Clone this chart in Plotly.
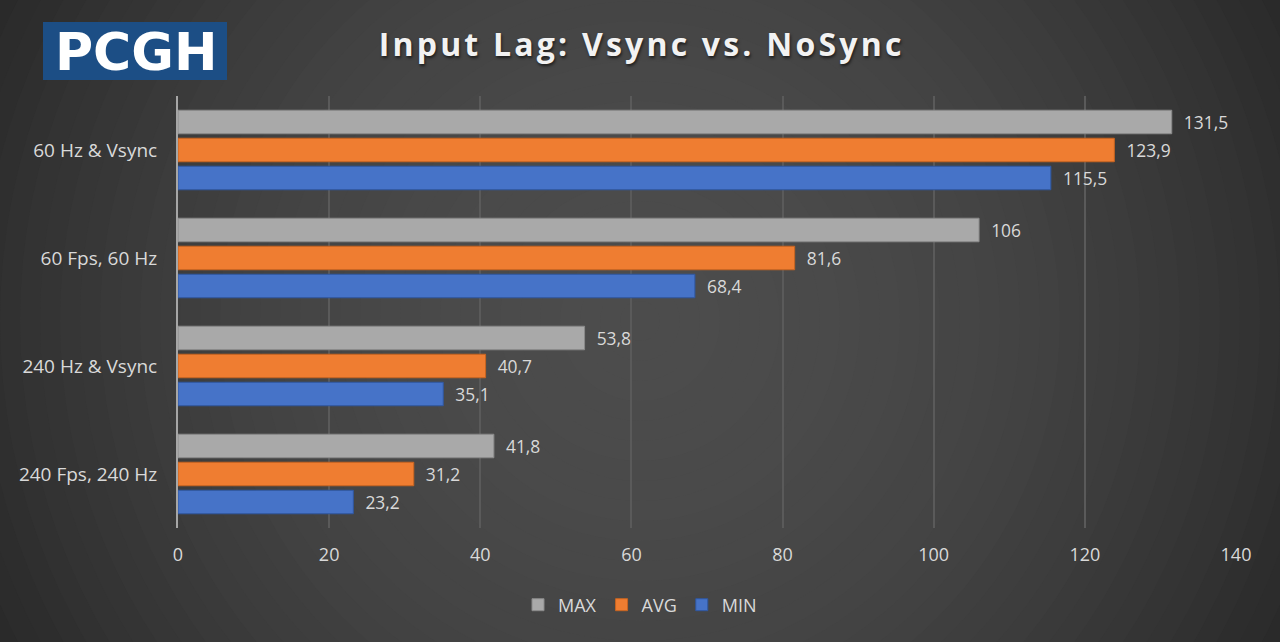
import plotly.graph_objects as go

categories = ["60 Hz & Vsync", "60 Fps, 60 Hz", "240 Hz & Vsync", "240 Fps, 240 Hz"]
max_vals = [131.5, 106, 53.8, 41.8]
avg_vals = [123.9, 81.6, 40.7, 31.2]
min_vals = [115.5, 68.4, 35.1, 23.2]
x_ticks = [0, 20, 40, 60, 80, 100, 120, 140]
title_text = "Input Lag: Vsync vs. NoSync"
logo_text = "PCGH"

W, H = 1280, 642
ML, MR, MT, MB = 178, 44, 96, 114
PW, PH = W - ML - MR, H - MT - MB


def px_x(px):
    return (px - ML) / PW


def px_y(py):
    return (H - MB - py) / PH


def fmt(v):
    s = ("%g" % v).replace(".", ",")
    return "\u00a0\u00a0" + s


def spaced(t):
    return "\u200a".join(list(t))


series = [
    ("MAX", max_vals, "#a9a9a9", "#8a8a8a"),
    ("AVG", avg_vals, "#ef7d31", "#c86420"),
    ("MIN", min_vals, "#4673c8", "#2f57a0"),
]

fig = go.Figure()
for name, vals, col, lcol in series:
    fig.add_trace(go.Bar(
        name=name, y=categories, x=vals, orientation="h",
        marker=dict(color=col, line=dict(color=lcol, width=1)),
        text=[fmt(v) for v in vals], textposition="outside",
        textfont=dict(color="#d9d9d9", size=20, family="Open Sans"),
        cliponaxis=False,
    ))

# radial background gradient approximated by stepped circles
shapes = []
cx, cy = 640, 321
for r in range(820, 0, -20):
    rm = r - 10
    v = int(round(max(36, 76 - 6.8e-5 * rm * rm)))
    c = "#%02x%02x%02x" % (v, v, v)
    shapes.append(dict(
        type="circle", xref="paper", yref="paper", layer="below",
        x0=px_x(cx - r), x1=px_x(cx + r), y0=px_y(cy + r), y1=px_y(cy - r),
        fillcolor=c, line=dict(width=0),
    ))
# logo box
shapes.append(dict(
    type="rect", xref="paper", yref="paper", layer="above",
    x0=px_x(43), x1=px_x(227), y0=px_y(80), y1=px_y(22),
    fillcolor="#1c4e85", line=dict(width=0),
))

fig.update_layout(
    width=W, height=H,
    margin=dict(l=ML, r=MR, t=MT, b=MB),
    paper_bgcolor="#262626", plot_bgcolor="rgba(0,0,0,0)",
    barmode="group", bargap=0.222, bargroupgap=0.16,
    font=dict(family="Open Sans", color="#d9d9d9", size=17),
    shapes=shapes,
    title=dict(
        text="<b>" + spaced(title_text) + "</b>", x=0.5, xanchor="center",
        xref="container", y=1 - 45 / H, yanchor="middle",
        font=dict(size=32, color="#f2f2f2", family="Open Sans",
                  shadow="1px 2px 3px rgba(0,0,0,0.6)"),
    ),
    xaxis=dict(
        range=[0, 140], tickvals=x_ticks, showgrid=True, gridcolor="#5a5a5a",
        gridwidth=2, zeroline=False, showline=False,
        tickfont=dict(size=18, color="#d9d9d9"), ticklabelstandoff=14,
        fixedrange=True,
    ),
    yaxis=dict(
        autorange="reversed", showgrid=False, showline=True, linecolor="#a6a6a6",
        linewidth=2, tickfont=dict(size=19, color="#d9d9d9"),
        ticklabelstandoff=15, fixedrange=True,
    ),
    legend=dict(
        orientation="h", x=px_x(640), xanchor="center", y=px_y(605),
        yanchor="middle", font=dict(size=18, color="#d9d9d9"),
        bgcolor="rgba(0,0,0,0)",
    ),
    annotations=[dict(
        text="<b>" + logo_text + "</b>", xref="paper", yref="paper",
        x=px_x(136), y=px_y(52), xanchor="center", yanchor="middle",
        showarrow=False, font=dict(family="DejaVu Sans", size=52, color="#ffffff"),
    )],
)

fig.write_html("out.html")
